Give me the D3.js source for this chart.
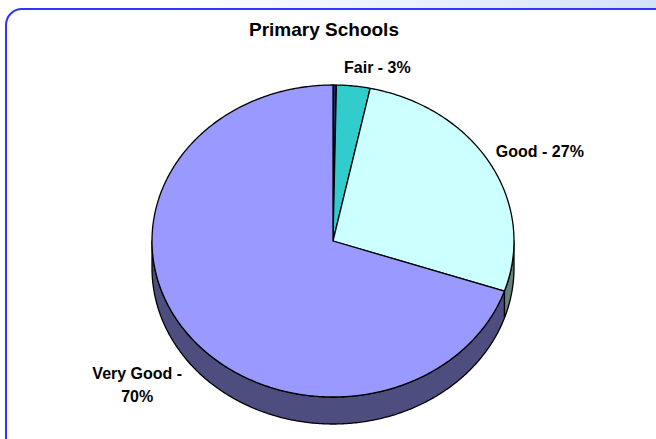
<!DOCTYPE html>
<html>
<head>
<meta charset="utf-8">
<script src="https://cdn.jsdelivr.net/npm/d3@7"></script>
<style>
  html, body { margin: 0; padding: 0; background: #fff; }
  svg { display: block; }
  text { font-family: "Liberation Sans", Arial, sans-serif; font-weight: bold; fill: #000; }
</style>
</head>
<body>
<svg width="656" height="439"></svg>
<script>
// data
var categories = ["Poor", "Fair", "Good", "Very Good"];
var values = [0.3, 3, 27, 70];
var colors = ["#1F2A5C", "#33CCCC", "#CCFFFF", "#9999FF"];
var title = "Primary Schools";

var svg = d3.select("svg");
var width = +svg.attr("width");
var height = +svg.attr("height");

// slide background + chart frame
var defs = svg.append("defs");
var grad = defs.append("linearGradient").attr("id", "bg").attr("x1", 0).attr("x2", 1);
grad.append("stop").attr("offset", "0.25").attr("stop-color", "#ffffff");
grad.append("stop").attr("offset", "1").attr("stop-color", "#D4E2F7");
svg.append("rect").attr("width", width).attr("height", height).attr("fill", "url(#bg)");

svg.append("rect")
    .attr("x", 6).attr("y", 9)
    .attr("width", 680).attr("height", 460)
    .attr("rx", 16).attr("ry", 16)
    .attr("fill", "#fff")
    .attr("stroke", "#3333FF")
    .attr("stroke-width", 2);

svg.append("text")
    .attr("x", 324).attr("y", 36)
    .attr("text-anchor", "middle")
    .style("font-size", "19px")
    .text(title);

// pie geometry (tilted ellipse)
var cx = 333, cy = 241, rx = 181, ry = 156, depth = 27;

var data = categories.map((c, i) => ({ key: c, value: values[i], color: colors[i] }));
var arcs = d3.pie().sort(null).value(d => d.value)(data);
var total = d3.sum(values);
var pct = v => Math.round(v / total * 100);

var px = a => cx + rx * Math.sin(a);
var py = a => cy - ry * Math.cos(a);

function rimPoints(a0, a1, dy) {
  var n = Math.max(2, Math.ceil(Math.abs(a1 - a0) / 0.01));
  return d3.range(n + 1).map(i => {
    var a = a0 + (a1 - a0) * i / n;
    return [px(a), py(a) + dy];
  });
}

var line = d3.line();

function topPath(d) {
  return line([[cx, cy]].concat(rimPoints(d.startAngle, d.endAngle, 0))) + "Z";
}

function sidePath(d) {
  var s = Math.max(d.startAngle, Math.PI / 2);
  var e = Math.min(d.endAngle, Math.PI * 1.5);
  if (e <= s) return null;
  return line(rimPoints(s, e, 0).concat(rimPoints(e, s, depth))) + "Z";
}

function shade(c) {
  var r = d3.rgb(c);
  return d3.rgb(r.r * 0.5, r.g * 0.5, r.b * 0.5).formatHex();
}

// sides
svg.append("g").selectAll("path")
  .data(arcs.filter(d => sidePath(d)))
  .join("path")
    .attr("d", sidePath)
    .attr("fill", d => shade(d.data.color))
    .attr("stroke", "#000")
    .attr("stroke-width", 1.3)
    .attr("stroke-linejoin", "round");

// tops
svg.append("g").selectAll("path")
  .data(arcs)
  .join("path")
    .attr("d", topPath)
    .attr("fill", d => d.data.color)
    .attr("stroke", "#000")
    .attr("stroke-width", 1.3)
    .attr("stroke-linejoin", "round");

// labels (0% slices are not labelled)
var nudge = { "Fair": [22, 5, "middle"], "Good": [-10, 2, "start"], "Very Good": [-34, 37, "middle"] };
var gap = 18;

var labels = svg.append("g").selectAll("text")
  .data(arcs.filter(d => pct(d.value) > 0))
  .join("text")
    .style("font-size", "16px")
    .attr("text-anchor", d => nudge[d.data.key][2])
    .attr("transform", d => {
      var a = (d.startAngle + d.endAngle) / 2;
      var x = cx + (rx + gap) * Math.sin(a) + nudge[d.data.key][0];
      var y = cy - (ry + gap) * Math.cos(a) + nudge[d.data.key][1];
      return `translate(${x},${y})`;
    });

labels.each(function(d) {
  var t = d3.select(this);
  var txt = `${d.data.key} - ${pct(d.value)}%`;
  var cut = txt.lastIndexOf(" ");
  var lines = txt.length > 12 ? [txt.slice(0, cut), txt.slice(cut + 1)] : [txt];
  lines.forEach((l, i) => {
    t.append("tspan").attr("x", 0).attr("dy", i ? 23 : 0).text(l);
  });
});
</script>
</body>
</html>
